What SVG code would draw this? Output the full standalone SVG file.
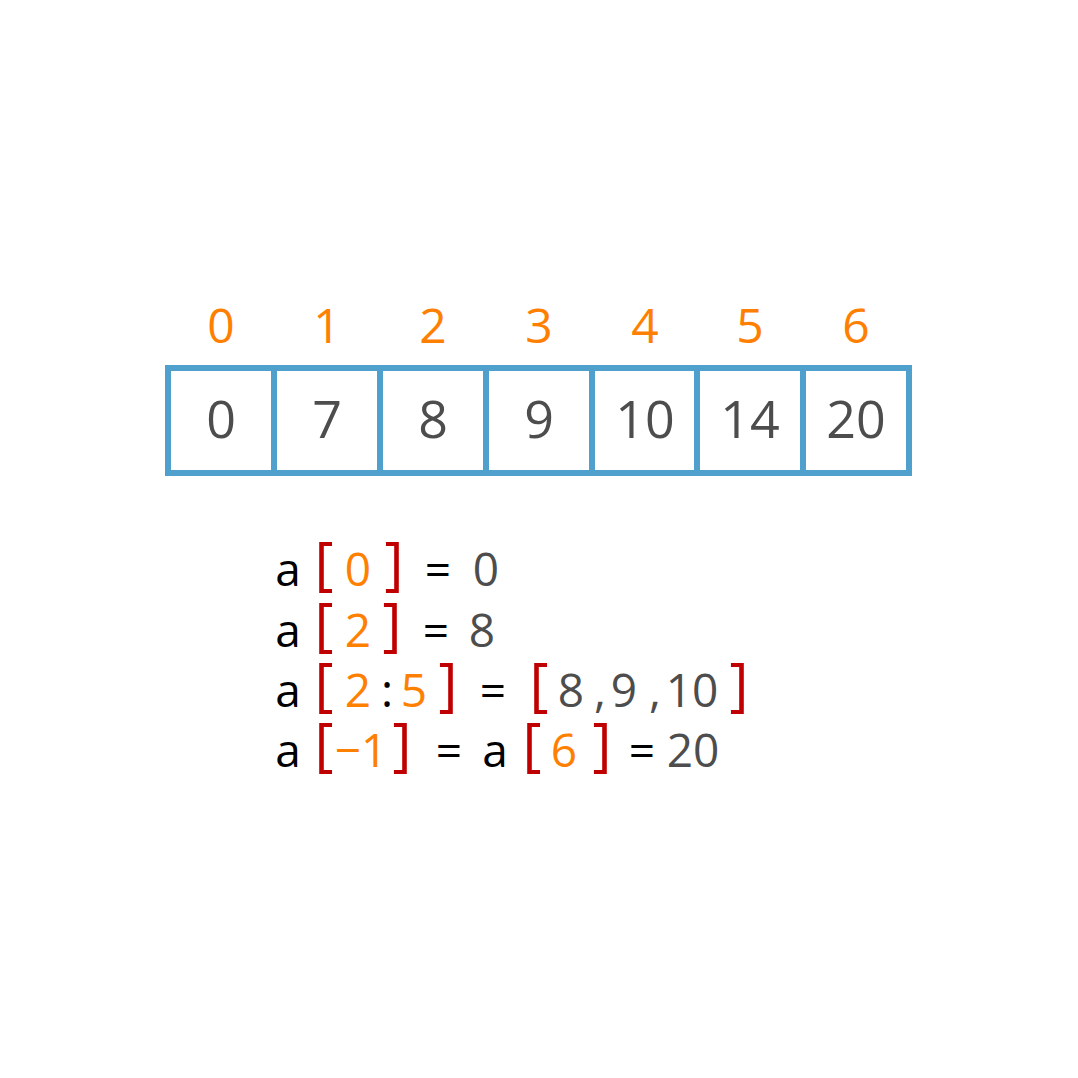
<svg xmlns="http://www.w3.org/2000/svg" width="1078" height="1078" viewBox="0 0 1078 1078">
<style>
.idx{font-family:"Open Sans","Noto Sans",sans-serif;font-size:48px;fill:#FF8000;text-anchor:middle}
.val{font-family:"Open Sans","Noto Sans",sans-serif;font-size:52px;fill:#4D4D4D;text-anchor:middle}
.cell{fill:#FFFFFF;stroke:#4FA0CC;stroke-width:6}
.t{font-family:"Open Sans","Noto Sans",sans-serif;font-size:46px;text-anchor:middle;font-weight:500}
.k{fill:#000000}
.o{fill:#FF8000}
.g{fill:#4D4D4D}
.b{font-family:"Open Sans","Noto Sans",sans-serif;font-size:58px;font-weight:500;fill:#C00000;text-anchor:middle}
</style>
<rect width="1078" height="1078" fill="#FFFFFF"/>
<g id="array">
<rect class="cell" x="168" y="368" width="106" height="105"/>
<rect class="cell" x="274" y="368" width="106" height="105"/>
<rect class="cell" x="380" y="368" width="106" height="105"/>
<rect class="cell" x="486" y="368" width="106" height="105"/>
<rect class="cell" x="592" y="368" width="105" height="105"/>
<rect class="cell" x="697" y="368" width="106" height="105"/>
<rect class="cell" x="803" y="368" width="106" height="105"/>
</g>
<g id="indices">
<text class="idx" x="221" y="343">0</text>
<text class="idx" x="327" y="343">1</text>
<text class="idx" x="433" y="343">2</text>
<text class="idx" x="539" y="343">3</text>
<text class="idx" x="645" y="343">4</text>
<text class="idx" x="750" y="343">5</text>
<text class="idx" x="856" y="343">6</text>
</g>
<g id="values">
<text class="val" x="221" y="438">0</text>
<text class="val" x="327" y="438">7</text>
<text class="val" x="433" y="438">8</text>
<text class="val" x="539" y="438">9</text>
<text class="val" x="645" y="438">10</text>
<text class="val" x="750" y="438">14</text>
<text class="val" x="856" y="438">20</text>
</g>
<g id="line1">
<text class="t k" x="288" y="586">a</text>
<text class="b" x="324" y="584">[</text>
<text class="t o" x="358" y="586">0</text>
<text class="b" x="394" y="584">]</text>
<text class="t k" x="438" y="586">=</text>
<text class="t g" x="486" y="586">0</text>
</g>
<g id="line2">
<text class="t k" x="288" y="647">a</text>
<text class="b" x="324" y="645">[</text>
<text class="t o" x="358" y="647">2</text>
<text class="b" x="392" y="645">]</text>
<text class="t k" x="436" y="647">=</text>
<text class="t g" x="482" y="647">8</text>
</g>
<g id="line3">
<text class="t k" x="288" y="707">a</text>
<text class="b" x="324" y="705">[</text>
<text class="t o" x="358" y="707">2</text>
<text class="t k" x="387" y="707">:</text>
<text class="t o" x="414" y="707">5</text>
<text class="b" x="448" y="705">]</text>
<text class="t k" x="493" y="707">=</text>
<text class="b" x="539" y="705">[</text>
<text class="t g" x="571" y="707">8</text>
<text class="t g" x="600" y="707">,</text>
<text class="t g" x="624" y="707">9</text>
<text class="t g" x="655" y="707">,</text>
<text class="t g" x="692" y="707">10</text>
<text class="b" x="739" y="705">]</text>
</g>
<g id="line4">
<text class="t k" x="288" y="767">a</text>
<text class="b" x="324" y="765">[</text>
<text class="t o" x="361" y="767">−1</text>
<text class="b" x="402" y="765">]</text>
<text class="t k" x="449" y="767">=</text>
<text class="t k" x="495" y="767">a</text>
<text class="b" x="532" y="765">[</text>
<text class="t o" x="564" y="767">6</text>
<text class="b" x="602" y="765">]</text>
<text class="t k" x="642" y="767">=</text>
<text class="t g" x="693" y="767">20</text>
</g>
</svg>
